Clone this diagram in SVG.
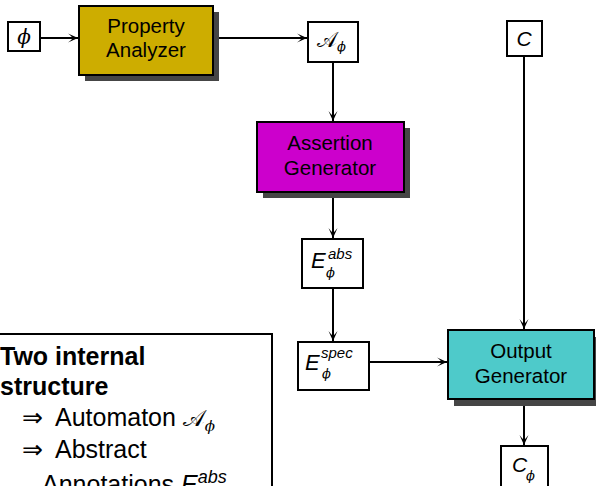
<svg xmlns="http://www.w3.org/2000/svg" width="596" height="486" viewBox="0 0 596 486">
  <defs>
    <marker id="arrow" viewBox="-11 -5 13 10" refX="0" refY="0" markerWidth="13" markerHeight="10" markerUnits="userSpaceOnUse" orient="auto">
      <path d="M0,0 L-10,-4.5 Q-5.5,-1 -5.5,0 Q-5.5,1 -10,4.5 Z" fill="#000"/>
    </marker>
    <style>
      .box { fill: #fff; stroke: #000; stroke-width: 2; }
      .proc { stroke: #000; stroke-width: 2; }
      .shadow { fill: #454545; }
      .lbl { font-family: "Liberation Sans", Arial, sans-serif; font-size: 20.5px; fill: #000; text-anchor: middle; }
      .math { font-family: "Liberation Sans", Arial, sans-serif; font-style: italic; fill: #000; }
      .phi { font-family: "DejaVu Serif", "Liberation Serif", serif; font-style: italic; fill: #000; }
      .cal { font-family: "DejaVu Sans", "Noto Sans", serif; fill: #000; }
      .conn { stroke: #000; stroke-width: 2; fill: none; marker-end: url(#arrow); }
      .note { font-family: "Liberation Sans", Arial, sans-serif; font-size: 25px; fill: #000; }
    </style>
  </defs>

  <!-- connectors -->
  <g id="connectors">
    <line class="conn" x1="40" y1="38" x2="78" y2="38"/>
    <line class="conn" x1="213" y1="38" x2="307" y2="38"/>
    <line class="conn" x1="333" y1="62" x2="333" y2="121"/>
    <line class="conn" x1="333" y1="192" x2="333" y2="238"/>
    <line class="conn" x1="333" y1="288" x2="333" y2="341"/>
    <line class="conn" x1="369" y1="362" x2="447" y2="362"/>
    <line class="conn" x1="524" y1="56" x2="524" y2="329"/>
    <line class="conn" x1="524" y1="399" x2="524" y2="445"/>
  </g>

  <!-- input formula -->
  <g id="phi-in">
    <rect class="box" x="8" y="22" width="32" height="29"/>
    <text class="phi" x="24" y="44" font-size="20" text-anchor="middle">ϕ</text>
  </g>

  <!-- property analyzer -->
  <g id="property-analyzer">
    <rect class="shadow" x="85" y="12" width="134" height="69"/>
    <rect class="proc" x="79" y="6" width="134" height="69" fill="#CDAD00"/>
    <text class="lbl" x="146" y="33">Property</text>
    <text class="lbl" x="146" y="57">Analyzer</text>
  </g>

  <!-- automaton -->
  <g id="automaton">
    <rect class="box" x="308" y="22" width="50" height="40"/>
    <text class="cal" x="317" y="47" font-size="21">𝒜</text>
    <text class="phi" x="337" y="51" font-size="13">ϕ</text>
  </g>

  <!-- input program -->
  <g id="c-in">
    <rect class="box" x="507" y="21" width="35" height="35"/>
    <text class="math" x="524" y="46" font-size="21" text-anchor="middle">C</text>
  </g>

  <!-- assertion generator -->
  <g id="assertion-generator">
    <rect class="shadow" x="263" y="128" width="147" height="70"/>
    <rect class="proc" x="257" y="122" width="147" height="70" fill="#CC00CC"/>
    <text class="lbl" x="330" y="150">Assertion</text>
    <text class="lbl" x="330" y="175">Generator</text>
  </g>

  <!-- abstract annotations -->
  <g id="e-abs">
    <rect class="box" x="302" y="239" width="61" height="49"/>
    <text class="math" x="311" y="268" font-size="22">E</text>
    <text class="math" x="328" y="259" font-size="15">abs</text>
    <text class="phi" x="326" y="277" font-size="13">ϕ</text>
  </g>

  <!-- specific annotations -->
  <g id="e-spec">
    <rect class="box" x="298" y="342" width="71" height="48"/>
    <text class="math" x="305" y="370" font-size="22">E</text>
    <text class="math" x="321" y="358" font-size="15">spec</text>
    <text class="phi" x="322" y="378" font-size="13">ϕ</text>
  </g>

  <!-- output generator -->
  <g id="output-generator">
    <rect class="shadow" x="454" y="337" width="146" height="69"/>
    <rect class="proc" x="448" y="330" width="146" height="69" fill="#4ECACA"/>
    <text class="lbl" x="521" y="358">Output</text>
    <text class="lbl" x="521" y="383">Generator</text>
  </g>

  <!-- output program -->
  <g id="c-out">
    <rect class="box" x="501" y="446" width="47" height="46"/>
    <text class="math" x="512" y="472" font-size="21">C</text>
    <text class="phi" x="526" y="480" font-size="13">ϕ</text>
  </g>

  <!-- note box -->
  <g id="note">
    <rect class="box" x="-10" y="334" width="282" height="170"/>
    <text class="note" x="0" y="365" font-weight="bold">Two internal</text>
    <text class="note" x="0" y="395" font-weight="bold">structure</text>
    <text class="note" x="22" y="426">⇒</text>
    <text class="note" x="55" y="426">Automaton <tspan class="cal" font-size="23">𝒜</tspan><tspan class="phi" font-size="15" dy="5">ϕ</tspan></text>
    <text class="note" x="22" y="458">⇒</text>
    <text class="note" x="55" y="458">Abstract</text>
    <text class="note" x="42" y="493">Annotations <tspan class="math">E</tspan><tspan class="math" font-size="18" dy="-10">abs</tspan></text>
  </g>
</svg>
